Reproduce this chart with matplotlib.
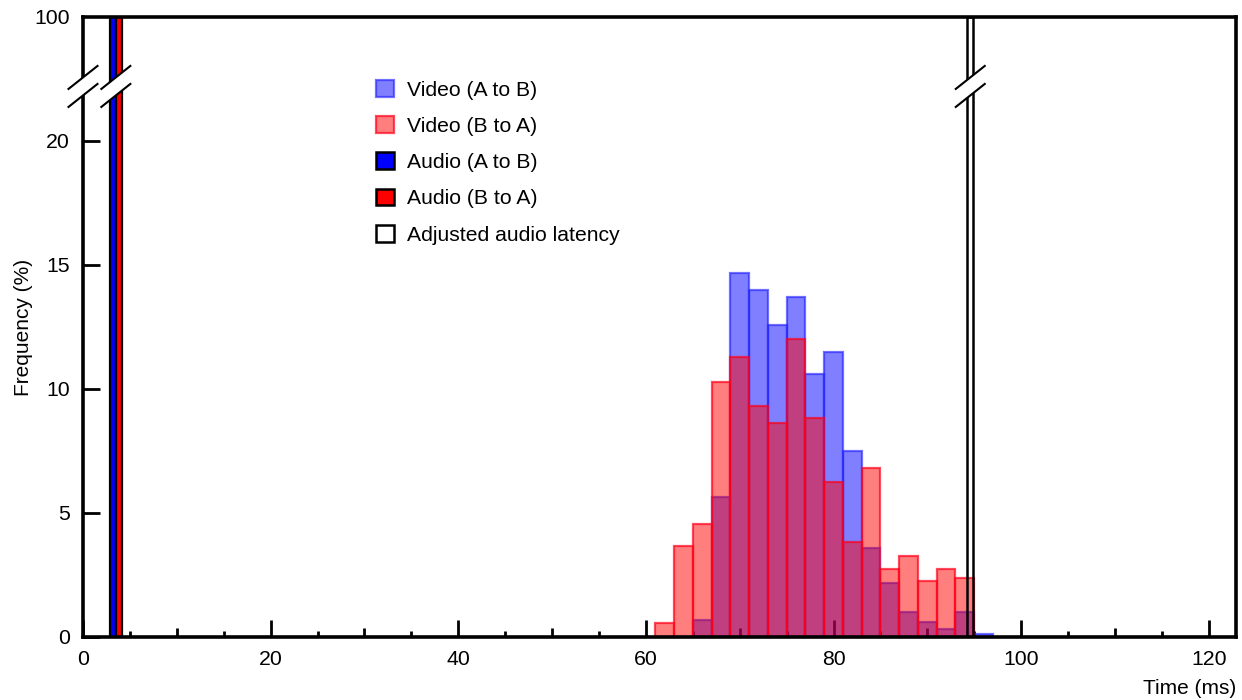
import numpy as np
import matplotlib
matplotlib.use("Agg")
import matplotlib.pyplot as plt
from matplotlib.patches import Patch, Polygon
from matplotlib.lines import Line2D
from matplotlib.transforms import ScaledTranslation

# ---------------- data ----------------
VIDEO_BIN_EDGES = list(range(61, 99, 2))          # 2 ms bins, 61 .. 97
VIDEO_AB = [0, 0, 0.7, 5.65, 14.68, 13.99, 12.6, 13.7, 10.6, 11.5,
            7.52, 3.57, 2.19, 0.99, 0.59, 0.31, 0.99, 0.11]
VIDEO_BA = [0.58, 3.66, 4.55, 10.3, 11.3, 9.32, 8.62, 12.0, 8.83, 6.25,
            3.84, 6.83, 2.76, 3.26, 2.25, 2.76, 2.36, 0]
AUDIO_AB_LEFT = [2.85]
AUDIO_BA_LEFT = [3.5]
AUDIO_AB = [100]
AUDIO_BA = [100]
AUDIO_WIDTH = 0.65
ADJUSTED_LEFT = [94.25]
ADJUSTED = [100]

X_TICKS = list(range(0, 130, 10))
X_TICK_LABELS = ["0", "", "20", "", "40", "", "60", "", "80", "", "100", "", "120"]
Y_TICKS = [0, 5, 10, 15, 20, 100]
Y_TICK_LABELS = ["0", "5", "10", "15", "20", "100"]

# ---------------- style ----------------
plt.rcParams["font.family"] = ["Liberation Sans", "DejaVu Sans"]

BREAK = 22.2        # where the y axis is broken
DISP_TOP = 25.0     # displayed position of 100 %


def fwd(y):
    y = np.asarray(y, dtype=float)
    return np.where(y <= BREAK, y, BREAK + (y - BREAK) * (DISP_TOP - BREAK) / (100 - BREAK))


def inv(y):
    y = np.asarray(y, dtype=float)
    return np.where(y <= BREAK, y, BREAK + (y - BREAK) * (100 - BREAK) / (DISP_TOP - BREAK))


fig = plt.figure(figsize=(12.42, 7.0), dpi=100)
ax = fig.add_axes([83 / 1242, 63 / 700, (1236 - 83) / 1242, (637 - 17) / 700])
ax.set_yscale("function", functions=(fwd, inv))
ax.set_xlim(0, 122.9)
ax.set_ylim(0, 100)

lefts = np.array(VIDEO_BIN_EDGES[:-1], dtype=float)
width = np.diff(VIDEO_BIN_EDGES)

ax.bar(lefts, VIDEO_AB, width=width, align="edge",
       facecolor=(0, 0, 1, 0.5), edgecolor=(0.15, 0.15, 1, 0.65), linewidth=1.6, zorder=2)
ax.bar(lefts, VIDEO_BA, width=width, align="edge",
       facecolor=(1, 0, 0, 0.5), edgecolor=(1, 0, 0.1, 0.7), linewidth=1.6, zorder=3)

ax.bar(AUDIO_AB_LEFT, AUDIO_AB, width=AUDIO_WIDTH, align="edge",
       facecolor="#0000ff", edgecolor="black", linewidth=1.6, zorder=4)
ax.bar(AUDIO_BA_LEFT, AUDIO_BA, width=AUDIO_WIDTH, align="edge",
       facecolor="#ff0000", edgecolor="black", linewidth=1.6, zorder=4)
ax.bar(ADJUSTED_LEFT, ADJUSTED, width=AUDIO_WIDTH, align="edge",
       facecolor="none", edgecolor="black", linewidth=1.8, zorder=4)

# spines & ticks
for s in ["left", "bottom", "top", "right"]:
    ax.spines[s].set_linewidth(2.6)
    ax.spines[s].set_zorder(6)

ax.set_xticks(X_TICKS)
ax.set_xticklabels(X_TICK_LABELS)
ax.set_xticks(np.arange(5, 125, 10), minor=True)
ax.set_yticks(Y_TICKS)
ax.set_yticklabels(Y_TICK_LABELS)
ax.yaxis.set_minor_locator(matplotlib.ticker.NullLocator())

ax.tick_params(axis="both", which="major", direction="in", width=2.0,
               length=12.5, labelsize=15.3, pad=9.5, colors="black")
ax.tick_params(axis="x", which="minor", direction="in", width=2.0, length=4.5)
ax.tick_params(axis="y", which="major", length=12)
# the 100 tick has no tick mark
for t, v in zip(ax.yaxis.get_major_ticks(), Y_TICKS):
    if v == 100:
        t.tick1line.set_visible(False)
# medium ticks at odd multiples of 10
for t, v in zip(ax.xaxis.get_major_ticks(), X_TICKS):
    if v % 20 != 0:
        t.tick1line.set_markersize(6.5)

ax.set_xlabel("Time (ms)", fontsize=15, loc="right", labelpad=7)
ax.set_ylabel("Frequency (%)", fontsize=15, labelpad=1)


# axis break marks
def break_mark(xc, half_w, gap=9.0, sx=14.5, k=23 / 29):
    tr = ScaledTranslation(xc, BREAK, ax.transData)
    poly = Polygon([(-half_w, -half_w * k - gap), (half_w, half_w * k - gap),
                    (half_w, half_w * k + gap), (-half_w, -half_w * k + gap)],
                   closed=True, facecolor="white", edgecolor="none",
                   transform=tr, clip_on=False, zorder=8)
    ax.add_patch(poly)
    for g in (gap, -gap):
        ln = Line2D([-sx, sx], [-sx * k + g, sx * k + g], color="black",
                    linewidth=1.5, transform=tr, clip_on=False, zorder=9)
        ax.add_line(ln)


break_mark(0.0, 5.0)
break_mark((AUDIO_AB_LEFT[0] + AUDIO_BA_LEFT[0] + AUDIO_WIDTH) / 2, 8.0)
break_mark(ADJUSTED_LEFT[0] + AUDIO_WIDTH / 2, 5.5)

# legend
handles = [
    Patch(facecolor=(0, 0, 1, 0.5), edgecolor=(0.15, 0.15, 1, 0.65), linewidth=1.6),
    Patch(facecolor=(1, 0, 0, 0.5), edgecolor=(1, 0, 0.1, 0.7), linewidth=1.6),
    Patch(facecolor="#0000ff", edgecolor="black", linewidth=1.8),
    Patch(facecolor="#ff0000", edgecolor="black", linewidth=1.8),
    Patch(facecolor="white", edgecolor="black", linewidth=1.8),
]
labels = ["Video (A to B)", "Video (B to A)", "Audio (A to B)", "Audio (B to A)",
          "Adjusted audio latency"]
fig.legend(handles, labels, loc="upper left", bbox_to_anchor=(357 / 1242, 1 - 61 / 700),
           frameon=False, fontsize=15.2, handlelength=0.85, handleheight=0.85,
           handletextpad=0.6, labelspacing=0.78, borderpad=0.4)

fig.savefig("out.png", dpi=100)
